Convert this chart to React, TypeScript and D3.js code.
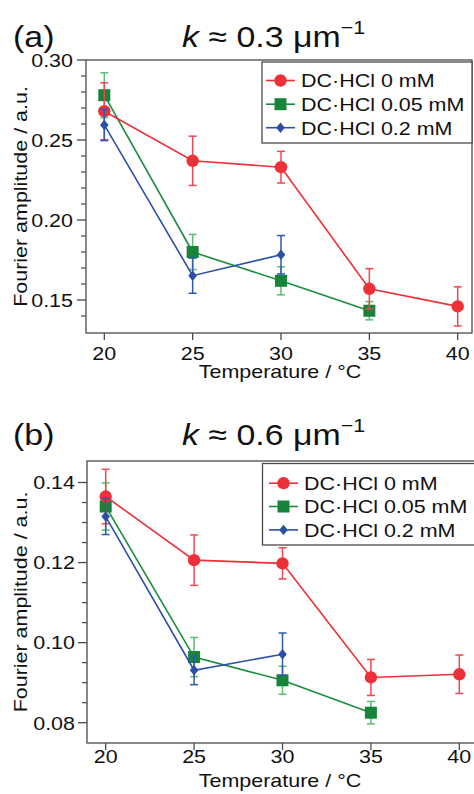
import React from "react";
import * as d3 from "d3";

// ---------- data ----------
const TEMPS = [20, 25, 30, 35, 40];
const X_TICKS = [20, 25, 30, 35, 40];
const SERIES_NAMES = ["DC·HCl 0 mM", "DC·HCl 0.05 mM", "DC·HCl 0.2 mM"];

// panel (a) k ≈ 0.3 µm^-1
const A_RED = [0.268, 0.237, 0.233, 0.157, 0.146];
const A_RED_ERR = [0.0178, 0.0154, 0.0099, 0.0126, 0.0122];
const A_GREEN = [0.278, 0.18, 0.162, 0.1433];
const A_GREEN_ERR = [0.014, 0.011, 0.0088, 0.0057];
const A_BLUE = [0.2594, 0.1652, 0.1783];
const A_BLUE_ERR = [0.0098, 0.011, 0.012];
const A_Y_TICKS = [0.15, 0.2, 0.25, 0.3];
const A_Y_MINOR = [0.14, 0.16, 0.17, 0.18, 0.19, 0.21, 0.22, 0.23, 0.24, 0.26, 0.27, 0.28, 0.29];

// panel (b) k ≈ 0.6 µm^-1
const B_RED = [0.1365, 0.1206, 0.1198, 0.0913, 0.0921];
const B_RED_ERR = [0.0068, 0.0063, 0.0039, 0.0045, 0.0048];
const B_GREEN = [0.134, 0.0964, 0.0906, 0.0825];
const B_GREEN_ERR = [0.0059, 0.0049, 0.0035, 0.0028];
const B_BLUE = [0.1315, 0.0931, 0.0971];
const B_BLUE_ERR = [0.0045, 0.0036, 0.0053];
const B_Y_TICKS = [0.08, 0.1, 0.12, 0.14];
const B_Y_MINOR = [0.085, 0.09, 0.095, 0.105, 0.11, 0.115, 0.125, 0.13, 0.135];

// ---------- style ----------
const SX = 1.13;
const FONT = "'Liberation Sans', Arial, Helvetica, sans-serif";
const AXIS = "#4a4a4a";
const TXT = "#111";
const COLORS = [
  { line: "#ee3038", err: "#f04850", fill: "#ee3038" },
  { line: "#1a8c3c", err: "#5cbc74", fill: "#178439" },
  { line: "#2b52a8", err: "#2f58b2", fill: "#2a4fa6" },
];

function T({ x, y, rot = 0, anchor = "start", size = 19, children, italic = false }: any) {
  return (
    <text
      transform={`translate(${x},${y}) rotate(${rot}) scale(${SX},1)`}
      textAnchor={anchor}
      fontSize={size}
      fontFamily={FONT}
      fill={TXT}
      fontStyle={italic ? "italic" : "normal"}
    >
      {children}
    </text>
  );
}

function Marker({ kind, x, y, color }: any) {
  if (kind === 0) return <circle cx={x} cy={y} r={6.2} fill={color} />;
  if (kind === 1) return <rect x={x - 6} y={y - 6} width={12} height={12} fill={color} />;
  return <path d={`M${x},${y - 5.2}L${x + 4.3},${y}L${x},${y + 5.2}L${x - 4.3},${y}Z`} fill={color} />;
}

function Panel({ cfg, series, yTicks, yMinor, label, kval }: any) {
  const x = d3.scaleLinear().domain([20, 40]).range(cfg.xr);
  const y = d3.scaleLinear().domain(cfg.yd).range(cfg.yr);
  const line = d3
    .line<[number, number]>()
    .x((d) => x(d[0]))
    .y((d) => y(d[1]));
  const { left, right, top, bottom } = cfg;
  const drawOrder = [1, 0, 2];
  return (
    <g>
      <T x={13} y={cfg.titleY} size={30}>{label}</T>
      <text
        transform={`translate(182,${cfg.titleY}) scale(${SX},1)`}
        fontSize={30}
        fontFamily={FONT}
        fill={TXT}
      >
        <tspan fontStyle="italic">k</tspan>
        <tspan>{` ≈ ${kval} μm`}</tspan>
        <tspan fontSize={19} dy={-13}>−1</tspan>
      </text>

      {/* frame */}
      <rect x={left} y={top} width={right - left} height={bottom - top} fill="none" stroke={AXIS} strokeWidth={1.3} />

      {/* y ticks */}
      {yTicks.map((t: number) => (
        <g key={"yt" + t}>
          <line x1={left - 9} x2={left} y1={y(t)} y2={y(t)} stroke={AXIS} strokeWidth={1.3} />
          <T x={cfg.yLabX} y={y(t) + 6.8} anchor="end">{t.toFixed(2)}</T>
        </g>
      ))}
      {yMinor.map((t: number) => (
        <line key={"ym" + t} x1={left - 5} x2={left} y1={y(t)} y2={y(t)} stroke={AXIS} strokeWidth={1.2} />
      ))}
      {/* x ticks */}
      {X_TICKS.map((t) => (
        <g key={"xt" + t}>
          <line x1={x(t)} x2={x(t)} y1={bottom} y2={bottom + 7} stroke={AXIS} strokeWidth={1.3} />
          <T x={x(t)} y={cfg.xLabY} anchor="middle">{String(t)}</T>
        </g>
      ))}
      <T x={280} y={cfg.xTitleY} anchor="middle">Temperature / °C</T>
      <T x={27} y={(top + bottom) / 2} rot={-90} anchor="middle">Fourier amplitude / a.u.</T>

      {/* data */}
      {drawOrder.map((si) => {
        const s = series[si];
        const pts: [number, number][] = s.vals.map((v: number, i: number) => [TEMPS[i], v]);
        const c = COLORS[si];
        return (
          <g key={"s" + si}>
            <path d={line(pts) || ""} fill="none" stroke={c.line} strokeWidth={1.6} />
            {pts.map((p, i) => {
              const e = s.errs[i];
              const cx = x(p[0]);
              return (
                <g key={"e" + i} stroke={c.err} strokeWidth={1.5}>
                  <line x1={cx} x2={cx} y1={y(p[1] + e)} y2={y(p[1] - e)} />
                  <line x1={cx - 4} x2={cx + 4} y1={y(p[1] + e)} y2={y(p[1] + e)} />
                  <line x1={cx - 4} x2={cx + 4} y1={y(p[1] - e)} y2={y(p[1] - e)} />
                </g>
              );
            })}
            {pts.map((p, i) => (
              <Marker key={"m" + i} kind={si} x={x(p[0])} y={y(p[1])} color={c.fill} />
            ))}
          </g>
        );
      })}

      {/* legend */}
      <rect x={cfg.lg.x} y={cfg.lg.y} width={cfg.lg.w} height={cfg.lg.h} fill="#fff" stroke={AXIS} strokeWidth={1.3} />
      {SERIES_NAMES.map((n, i) => {
        const ry = cfg.lg.rows[i];
        const c = COLORS[i];
        return (
          <g key={"lg" + i}>
            <line x1={cfg.lg.lx1} x2={cfg.lg.lx2} y1={ry - 6.8} y2={ry - 6.8} stroke={c.line} strokeWidth={1.6} />
            <Marker kind={i} x={(cfg.lg.lx1 + cfg.lg.lx2) / 2} y={ry - 6.8} color={c.fill} />
            <T x={cfg.lg.tx} y={ry}>{n}</T>
          </g>
        );
      })}
    </g>
  );
}

const CFG_A = {
  left: 86, right: 472, top: 60, bottom: 333,
  xr: [104.3, 457.7], yd: [0.15, 0.3], yr: [300, 60],
  yLabX: 73, xLabY: 360, xTitleY: 378, titleY: 47,
  lg: { x: 262, y: 62, w: 210, h: 81, rows: [87.3, 111, 134.5], lx1: 266, lx2: 295, tx: 301 },
};
const CFG_B = {
  left: 87, right: 480, top: 461, bottom: 743,
  xr: [105.7, 459.3], yd: [0.08, 0.14], yr: [722.7, 482.5],
  yLabX: 75, xLabY: 763, xTitleY: 787, titleY: 445,
  lg: { x: 262.5, y: 463.5, w: 220, h: 81.5, rows: [490, 513.3, 536.7], lx1: 269, lx2: 298, tx: 304 },
};

export default function App() {
  const seriesA = [
    { vals: A_RED, errs: A_RED_ERR },
    { vals: A_GREEN, errs: A_GREEN_ERR },
    { vals: A_BLUE, errs: A_BLUE_ERR },
  ];
  const seriesB = [
    { vals: B_RED, errs: B_RED_ERR },
    { vals: B_GREEN, errs: B_GREEN_ERR },
    { vals: B_BLUE, errs: B_BLUE_ERR },
  ];
  return (
    <svg width={474} height={794} style={{ position: "absolute", left: 0, top: 0, background: "#fff" }}>
      <rect x={0} y={0} width={474} height={794} fill="#fff" />
      <Panel cfg={CFG_A} series={seriesA} yTicks={A_Y_TICKS} yMinor={A_Y_MINOR} label="(a)" kval="0.3" />
      <Panel cfg={CFG_B} series={seriesB} yTicks={B_Y_TICKS} yMinor={B_Y_MINOR} label="(b)" kval="0.6" />
    </svg>
  );
}
